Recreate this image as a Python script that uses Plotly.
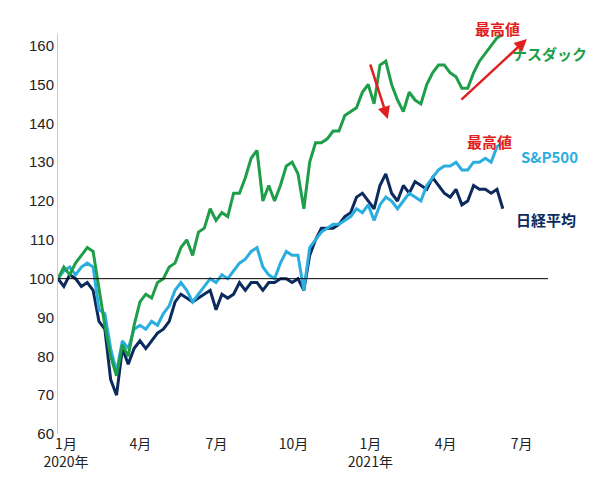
import plotly.graph_objects as go
import pandas as pd

dates = pd.date_range("2020-01-03", periods=77, freq="7D")
nasdaq = [100,103,101,104, 106,108,107,97, 88,80,75,83,80, 88,94,96,95, 99,100,103,104,
          108,110,106,112, 113,118,115,117,116, 122,122,126,131, 133,120,124,120,
          124,129,130,127,118, 130,135,135,136, 138,138,142,143, 144,148,150,145,
          155,156,150,146, 143,148,146,145,150, 153,155,155,153, 152,149,149,153,
          156,158,160,162,163]
sp500 = [100,102,103,101, 103,104,103,92, 91,82,76,84,82, 87,88,87,89, 88,91,93,97,
         99,97,94,96, 98,100,99,101,100, 102,104,105,107, 108,103,101,100,
         104,107,106,106,97, 108,110,112,113, 114,114,115,116, 118,117,119,115,
         119,121,120,118, 120,122,121,120,124, 126,128,129,129, 130,128,128,130,
         130,131,130,134,135]
nikkei = [100,98,101,100, 98,99,97,89, 87,74,70,82,78, 82,84,82,84, 86,87,89,94,
          96,95,94,95, 96,97,92,96,95, 96,99,97,99, 99,97,99,99,
          100,100,99,100,97, 106,110,113,113, 113,114,116,117, 121,122,120,118,
          124,127,122,120, 124,122,125,124,123, 126,124,122,121, 123,119,120,124,
          123,123,122,123,118]
tick_dates = ["2020-01-03","2020-04-01","2020-07-01","2020-10-01","2021-01-01","2021-04-01","2021-07-01"]
tick_text = ["1月<br>2020年","4月","7月","10月","1月<br>2021年","4月","7月"]

fig = go.Figure()
for y, c in [(nikkei, "#0c2a5e"), (sp500, "#2aaee0"), (nasdaq, "#1f9e4a")]:
    fig.add_trace(go.Scatter(x=dates, y=y, mode="lines", line=dict(color=c, width=3), showlegend=False))

fig.add_shape(type="line", xref="paper", x0=0, x1=1, yref="y", y0=100, y1=100, line=dict(color="black", width=1))

f = "Noto Sans CJK JP"
anns = [
    (0.922, 0.9825, "ナスダック", "#1f9e4a", "left"),
    (0.94, 0.725, "S&P500", "#2aaee0", "left"),
    (0.93, 0.5375, "日経平均", "#0c2a5e", "left"),
    (0.896, 1.045, "最高値", "#e02020", "center"),
    (0.88, 0.7625, "最高値", "#e02020", "center"),
]
for x, y, t, c, xa in anns:
    fig.add_annotation(x=x, xref="paper", y=y, yref="paper", text=f"<b>{t}</b>", showarrow=False,
                       xanchor=xa, font=dict(size=15, color=c, family=f))
fig.add_annotation(x=0.673, y=0.7875, xref="paper", yref="paper", ax=-18, ay=-56, showarrow=True,
                   arrowhead=2, arrowsize=1, arrowwidth=2.5, arrowcolor="#e02020", text="")
fig.add_annotation(x=0.957, y=0.9875, xref="paper", yref="paper", ax=-67, ay=62, showarrow=True,
                   arrowhead=2, arrowsize=1, arrowwidth=2.5, arrowcolor="#e02020", text="")

fig.update_layout(width=600, height=479, margin=dict(l=50, r=60, t=26, b=53, autoexpand=False),
                  plot_bgcolor="white", paper_bgcolor="white", font=dict(family=f, size=14, color="#222"))
fig.update_xaxes(range=["2020-01-03", "2021-08-11"], tickvals=tick_dates, ticktext=tick_text,
                 showgrid=False, ticklabelshift=8, showline=False, zeroline=False)
fig.update_yaxes(range=[60, 163], tickvals=list(range(60, 161, 10)), showgrid=False, zeroline=False,
                 showline=True, linecolor="#ccc", tickfont=dict(size=15, family="Liberation Sans"))
fig.write_html("out.html")
